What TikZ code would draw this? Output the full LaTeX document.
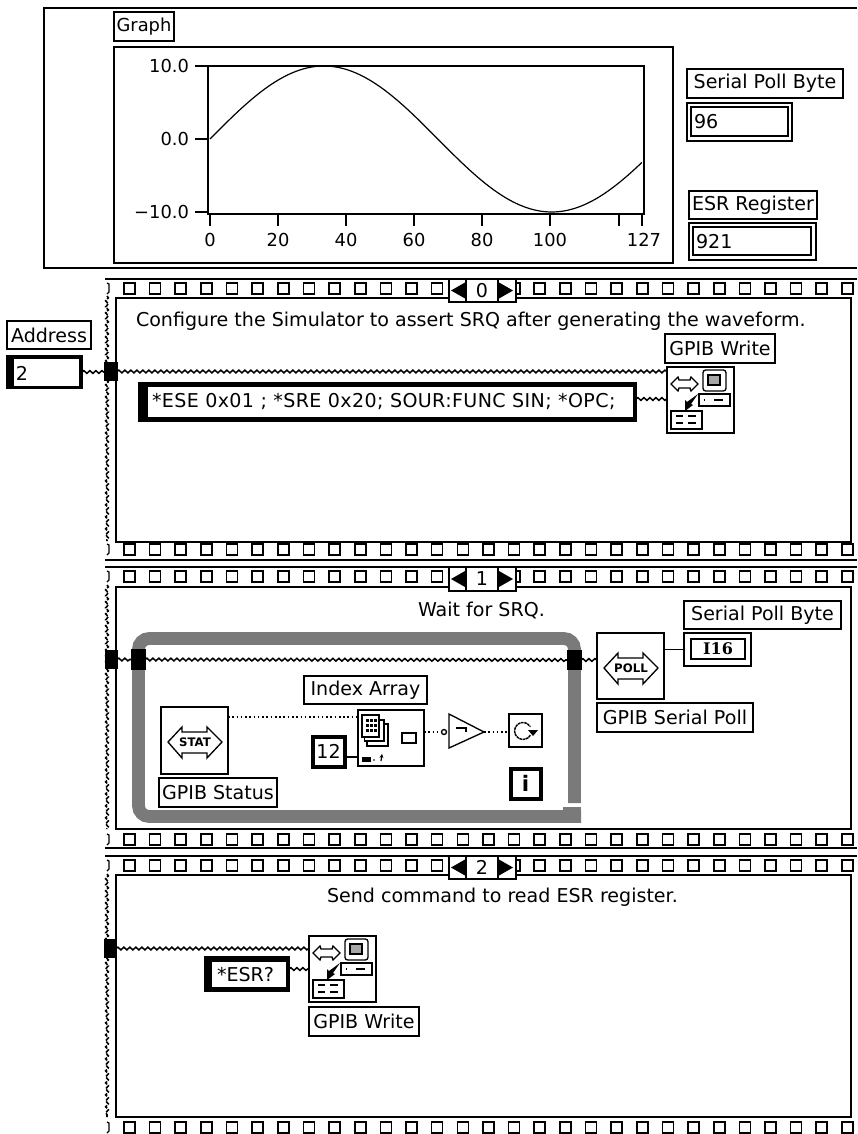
\documentclass[tikz,border=0pt]{standalone}
\usepackage{fontspec}
\setmainfont{DejaVu Sans}
\newfontfamily\slab{DejaVu Serif}
\usetikzlibrary{decorations.pathmorphing,arrows.meta}
\newcommand\gen{\fontsize{14.3}{16}\selectfont}
\newcommand\genb{\fontsize{13.4}{16}\selectfont}
\newcommand\rb[7][]{%
  \pgfmathsetmacro\rcx{(#3+#5)/2}\pgfmathsetmacro\rcy{(#4+#6)/2}%
  \pgfmathsetmacro\rw{(#5-#3)*0.75}\pgfmathsetmacro\rh{(#6-#4)*0.75}%
  \node[boxed,minimum width=\rw pt,minimum height=\rh pt,#1] (#2) at (\rcx,\rcy) {#7};}
\newcommand\holerow[2]{\foreach \n in {#2} {\pgfmathsetmacro\hx{124+25.64*\n}\draw[holesty] (\hx,#1) rectangle ++(11,11);}}
\newcommand\ctl[9]{% name x1 y1 x2 y2 ix1 iy1 ix2 iy2
  \rb[fill=black]{#1}{#2}{#3}{#4}{#5}{}%
  \fill[white] (#6,#7) rectangle (#8,#9);}
\newcommand\selector[4]{% name y1 y2 digit
  \rb[fill=white]{#1}{449}{#2}{516}{#3}{}%
  \draw[box] (466,#2) -- (466,#3) (498,#2) -- (498,#3);
  \pgfmathsetmacro\sm{(#2+#3)/2}%
  \fill (451,\sm) -- (465,\sm-8) -- (465,\sm+8) -- cycle;
  \fill (513,\sm) -- (499,\sm-8) -- (499,\sm+8) -- cycle;
  \node[txt,anchor=center] (#1d) at (482,\sm) {#4};}
\newcommand\writeicon[3]{% name x y
  \rb[fill=white]{#1}{#2}{#3}{#2+67}{#3+66}{}%
  \begin{scope}[shift={(#2,#3)}]
    \draw[box] (4,17) -- (11,10) -- (12,13) -- (23,13) -- (24,10) -- (31,17) -- (24,24) -- (23,21) -- (12,21) -- (11,24) -- cycle;
    \draw[box,rounded corners=2] (36,3) rectangle (59,24);
    \draw[box,fill=gray!70] (41,8) rectangle (53,18);
    \draw[box,fill=white] (32,27) rectangle (63,39);
    \draw[box] (37,33) -- (38,33) (47,33) -- (56,33);
    \fill (31,27) -- (24,37) -- (26,38) -- (18,44) -- (18,33) -- (20,35) -- cycle;
    \draw[box,fill=white] (4,44) rectangle (35,62);
    \draw[box] (9,49) -- (16,49) (21,49) -- (29,49) (9,56) -- (16,56) (21,56) -- (29,56);
  \end{scope}}
\newcommand\gpibarrow[3]{% x y text
  \begin{scope}[shift={(#1,#2)}]
    \draw[box] (7,35) -- (21,20) -- (21,25) -- (46,25) -- (46,20) -- (61,35) -- (46,51) -- (46,46) -- (21,46) -- (21,51) -- cycle;
    \node[inner sep=0,font=\bfseries\fontsize{8.8}{9}\selectfont] at (34,35.5) {#3};
  \end{scope}}
\tikzset{
  box/.style={draw=black,line width=1pt},
  boxed/.style={draw=black,line width=1pt,inner sep=0pt,outer sep=0pt,font=\gen},
  txt/.style={inner sep=0pt,outer sep=0pt,font=\gen},
  ticktxt/.style={inner sep=0pt,outer sep=0pt,font=\genb},
  holesty/.style={draw=black,line width=1.2pt},
  wire/.style={draw=black,line width=1.15pt,decorate,decoration={snake,amplitude=1pt,segment length=4.5pt}},
  wirev/.style={draw=black,line width=1.2pt,dash pattern=on 3pt off 1pt,decorate,decoration={snake,amplitude=1pt,segment length=4.5pt}},
  boolw/.style={draw=black,line width=1.2pt,dotted},
  band/.style={draw=black!52,line width=9.6pt},
}
\begin{document}
\begin{tikzpicture}[x=0.75pt,y=-0.75pt]
\fill[white] (0,0) rectangle (857,1134);
\clip (0,0) rectangle (857,1134);
% front panel
\draw[box,line width=1.3pt] (857,8) -- (44,8) -- (44,268) -- (857,268);
\rb[font=\genb]{lgraph}{114}{12}{174}{41}{Graph}
\rb{gframe}{114}{47}{673}{263}{}
\rb[line width=1.1pt]{plotarea}{208}{66}{644}{214}{}
\draw[black,line width=0.9pt] plot[domain=0:127,samples=128] ({210+3.4*\x},{139-73*sin(2.68657*\x)});
\foreach \ty/\tl in {66/10.0,139/0.0,212/−10.0} {
  \draw[box] (195,\ty) -- (208,\ty);
  \node[ticktxt,anchor=east] at (189,\ty) {\tl};
}
\foreach \tx in {210,278,346,414,482,550,619,642} {
  \draw[box] (\tx,215) -- (\tx,226);
}
\foreach \tx/\tl in {210/0,278/20,346/40,414/60,482/80,550/100,644/127} {
  \node[ticktxt] at (\tx,240) {\tl};
}
\rb{lspb}{687}{69}{843}{98}{Serial Poll Byte}
\rb{ispb}{687}{103}{792}{141}{}
\rb{ispbin}{691}{107}{788}{136}{}
\node[txt,anchor=west] (vspb) at (694,122) {96};
\rb{lesr}{689}{191}{817}{219}{ESR Register}
\rb{iesr}{689}{223}{816}{260}{}
\rb{iesrin}{693}{227}{811}{255}{}
\node[txt,anchor=west] (vesr) at (696,242) {921};
% frame lines
\draw[black,line width=1.6pt] (105,279) -- (857,279);
\draw[black,line width=1.6pt] (105,560) -- (857,560);
\draw[black,line width=1.6pt] (105,567) -- (857,567);
\draw[black,line width=1.6pt] (105,848) -- (857,848);
\draw[black,line width=1.6pt] (105,856) -- (857,856);
% frames
\rb{f0}{116}{298}{851}{542}{}
\rb{f1}{116}{587}{851}{829}{}
\rb{f2}{116}{875}{851}{1117}{}
\holerow{283}{0,...,12,16,17,...,28}
\holerow{544}{0,...,28}
\holerow{571}{0,...,12,16,17,...,28}
\holerow{834}{0,...,28}
\holerow{860}{0,...,12,16,17,...,28}
\holerow{1122}{0,...,28}
\foreach \yy in {283,571,860} \draw[holesty] (516,\yy) -- (520,\yy) -- (520,\yy+11) -- (516,\yy+11);
\selector{s0}{279}{302}{0}
\selector{s1}{567}{591}{1}
\selector{s2}{856}{879}{2}
% left edges
\foreach \ya/\yb in {296/541,585/829,874/1117} \draw[wirev] (107,\ya) -- (107,\yb);
\foreach \yy in {283,544,571,834,860,1122}
  \draw[black,line width=1pt] (107,\yy) -- (109,\yy+1) -- (109,\yy+9) -- (107,\yy+11);
% frame 0
\node[txt,anchor=west] (t0) at (136,321) {Configure the Simulator to assert SRQ after generating the waveform.};
\rb{laddr}{7}{321}{91}{349}{Address}
\ctl{caddr}{7}{356}{82}{388}{14}{359}{79}{386}
\node[txt,anchor=west] (vaddr) at (16,373) {2};
\rb[fill=black]{tun0}{105}{363}{117}{380}{}
\writeicon{w0}{667}{367}
\rb{lw0}{665}{334}{775}{363}{GPIB Write}
\ctl{str0}{139}{383}{636}{421}{148}{387}{633}{417}
\node[txt,anchor=west] (vstr0) at (152,402) {\addfontfeatures{LetterSpace=2}*ESE 0x01 ; *SRE 0x20; SOUR:FUNC SIN; *OPC;};
\draw[wire] (caddr.east) -- (caddr.east -| tun0.west);
\draw[wire] (tun0.east) -- (tun0.east -| w0.west);
\draw[wire] (str0.east) ++(0,-3) -- ++(31,0);
% frame 1
\node[txt,anchor=west] (t1) at (418,610) {Wait for SRQ.};
\draw[band,rounded corners=8] (574.5,803) -- (574.5,638.5) -- (138.5,638.5) -- (138.5,816.5) -- (581,816.5);
\fill[black!52] (563,807) rectangle (581,816);
\rb[fill=black]{tun1}{106}{651}{117}{668}{}
\rb[fill=black]{tun1l}{132}{650}{145}{669}{}
\rb[fill=black]{tun1r}{568}{651}{581}{669}{}
\rb[fill=white]{poll}{597}{633}{664}{699}{}
\gpibarrow{597}{633}{POLL}
\rb{lpoll}{597}{703}{753}{732}{GPIB Serial Poll}
\rb{lspb2}{684}{601}{841}{629}{Serial Poll Byte}
\rb{ind}{684}{633}{751}{666}{}
\rb[font=\bfseries\slab\fontsize{12}{13}\selectfont]{indin}{691}{639}{745}{659}{I16}
\draw[wire] (tun1.east) -- (tun1l.west);
\draw[wire] (tun1l.east) -- (tun1r.west);
\draw[wire] (tun1r.east) -- (tun1r.east -| poll.west);
\draw[box] (poll.east |- ind.west) -- (ind.west);
\rb[fill=white]{stat}{161}{707}{228}{774}{}
\gpibarrow{161}{707}{STAT}
\rb{lstat}{159}{778}{277}{807}{GPIB Status}
\rb{lidx}{304}{676}{427}{704}{Index Array}
\rb[fill=white]{idx}{358}{710}{424}{766}{}
\draw[box,fill=white] (367,724) rectangle (388,746);
\draw[box,fill=white] (364.5,720) rectangle (384,741);
\draw[box,fill=white] (362,715) rectangle (379,737);
\foreach \ii in {366,370,374} \foreach \jj in {719,724,729} \fill (\ii,\jj) rectangle ++(2.6,2.6);
\draw[box] (402,733) rectangle (416,743);
\fill (362,757) rectangle (371,762);
\fill (374,760) circle (0.8);
\draw[black,line width=0.9pt,-{Stealth[length=3pt,width=3pt]}] (381,761) -- (382,754);
\rb[line width=3pt]{k12}{312.5}{736.5}{344.5}{766.5}{12}
\draw[boolw] (stat.east |- 0,717) -- (idx.west |- 0,717);
\draw[box] (k12.east |- 0,757) -- (idx.west |- 0,757);
\coordinate (notin) at (441.5,732);
\draw[box] (449,714) -- (449,748) -- (484,732) -- cycle;
\coordinate (notout) at (484,732);
\draw[box] (444,732) circle (2.5);
\draw[box] (456,728) -- (466,728) -- (466,732);
\rb[fill=white]{stop}{509}{714}{542}{747}{}
\draw[black,line width=1.1pt,dash pattern=on 2pt off 0.5pt] (530.4,735.2) arc (30:330:8.5);
\fill (528,730) -- (538,730) -- (533,736) -- cycle;
\rb[line width=3pt,font=\bfseries\fontsize{16}{17}\selectfont]{iter}{510.5}{768.5}{540.5}{798.5}{i}
\draw[boolw] (idx.east |- notin) -- (notin);
\draw[boolw] (notout) -- (notout -| stop.west);
% frame 2
\node[txt,anchor=west] (t2) at (327,897) {Send command to read ESR register.};
\rb[fill=black]{tun2}{105}{940}{116}{957}{}
\writeicon{w2}{309}{936}
\rb{lw2}{309}{1007}{419}{1036}{GPIB Write}
\ctl{str2}{205}{957}{289}{991}{212}{962}{286}{987}
\node[txt,anchor=west] (vstr2) at (217,975) {*ESR?};
\draw[wire] (tun2.east) -- (tun2.east -| w2.west);
\draw[wire] (str2.east |- 0,969) -- (w2.west |- 0,969);
\end{tikzpicture}
\end{document}
